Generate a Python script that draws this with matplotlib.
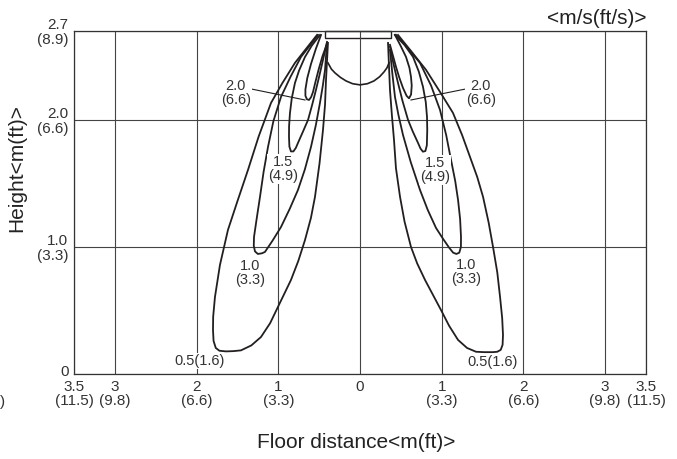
import matplotlib
matplotlib.use("Agg")
import matplotlib.pyplot as plt
from matplotlib.patches import Rectangle
from matplotlib.transforms import ScaledTranslation

plt.rcParams['font.family'] = ['Liberation Sans', 'DejaVu Sans']

# tick labels
x_ticks = [-3.5, -3, -2, -1, 0, 1, 2, 3, 3.5]
x_labels = ["3.5\n(11.5)", "3\n(9.8)", "2\n(6.6)", "1\n(3.3)", "0",
            "1\n(3.3)", "2\n(6.6)", "3\n(9.8)", "3.5\n(11.5)"]
y_ticks = [0, 1.0, 2.0, 2.7]
y_labels = ["0", "1.0\n(3.3)", "2.0\n(6.6)", "2.7\n(8.9)"]

# velocity contours, left side (m)
l20_x = [-0.477, -0.54, -0.60, -0.645, -0.668, -0.668, -0.650, -0.624, -0.598, -0.575,
         -0.545, -0.505, -0.46, -0.404]
l20_y = [2.669, 2.56, 2.44, 2.33, 2.24, 2.19, 2.163, 2.157, 2.18, 2.22,
         2.30, 2.40, 2.50, 2.60]
l15_x = [-0.490, -0.59, -0.673, -0.745, -0.796, -0.835, -0.857, -0.868, -0.869, -0.864,
         -0.845, -0.815, -0.785, -0.759, -0.700, -0.636, -0.585, -0.539, -0.495, -0.453,
         -0.404]
l15_y = [2.669, 2.585, 2.496, 2.39, 2.291, 2.17, 2.055, 1.95, 1.866, 1.79,
         1.752, 1.752, 1.78, 1.819, 1.905, 2.000, 2.12, 2.236, 2.355, 2.472,
         2.614]
l10_x = [-0.514, -0.62, -0.722, -0.85, -0.967, -1.06, -1.126, -1.18, -1.224, -1.265,
         -1.297, -1.300, -1.285, -1.25, -1.20, -1.163, -1.07, -0.967, -0.86, -0.759,
         -0.675, -0.600, -0.540, -0.490, -0.455, -0.428, -0.404]
l10_y = [2.669, 2.58, 2.496, 2.34, 2.181, 1.99, 1.787, 1.59, 1.394, 1.22,
         1.079, 1.01, 0.965, 0.945, 0.95, 0.961, 1.05, 1.157, 1.30, 1.449,
         1.61, 1.787, 1.96, 2.134, 2.27, 2.394, 2.606]
l05_x = [-0.526, -0.66, -0.796, -0.95, -1.089, -1.24, -1.371, -1.50, -1.616, -1.714,
         -1.775, -1.797, -1.799, -1.792, -1.765, -1.72, -1.64, -1.55, -1.457, -1.33,
         -1.212, -1.10, -1.004, -0.845, -0.755, -0.673, -0.60, -0.551, -0.495, -0.453,
         -0.428, -0.416, -0.392]
l05_y = [2.669, 2.56, 2.449, 2.29, 2.134, 1.87, 1.606, 1.36, 1.134, 0.858,
         0.606, 0.45, 0.346, 0.26, 0.205, 0.183, 0.178, 0.180, 0.186, 0.225,
         0.291, 0.40, 0.528, 0.740, 0.89, 1.055, 1.23, 1.394, 1.66, 1.921,
         2.12, 2.315, 2.606]

# velocity contours, right side (m)
r20_x = [0.428, 0.50, 0.563, 0.605, 0.624, 0.633, 0.625, 0.600, 0.57, 0.526,
         0.48, 0.441, 0.367]
r20_y = [2.669, 2.58, 2.496, 2.41, 2.339, 2.27, 2.20, 2.170, 2.19, 2.252,
         2.335, 2.417, 2.591]
r15_x = [0.428, 0.545, 0.649, 0.72, 0.771, 0.805, 0.820, 0.823, 0.818, 0.800,
         0.770, 0.740, 0.710, 0.645, 0.588, 0.52, 0.465, 0.41, 0.367]
r15_y = [2.669, 2.59, 2.496, 2.38, 2.260, 2.14, 2.024, 1.92, 1.80, 1.755,
         1.750, 1.775, 1.819, 1.91, 2.000, 2.15, 2.291, 2.44, 2.575]
r10_x = [0.441, 0.59, 0.734, 0.87, 0.979, 1.055, 1.114, 1.165, 1.200, 1.225,
         1.236, 1.235, 1.215, 1.18, 1.14, 1.09, 1.01, 0.930, 0.83, 0.734,
         0.62, 0.526, 0.470, 0.428, 0.395, 0.367]
r10_y = [2.669, 2.56, 2.449, 2.27, 2.079, 1.88, 1.685, 1.52, 1.370, 1.22,
         1.079, 1.00, 0.955, 0.945, 0.955, 0.995, 1.07, 1.150, 1.29, 1.449,
         1.67, 1.882, 2.04, 2.181, 2.37, 2.551]
r05_x = [0.465, 0.64, 0.808, 0.98, 1.138, 1.25, 1.346, 1.435, 1.506, 1.575,
         1.628, 1.680, 1.714, 1.740, 1.750, 1.745, 1.722, 1.68, 1.628, 1.52,
         1.420, 1.31, 1.200, 1.09, 0.991, 0.796, 0.70, 0.624, 0.545, 0.490,
         0.440, 0.416, 0.390, 0.367, 0.343]
r05_y = [2.669, 2.53, 2.394, 2.22, 2.055, 1.88, 1.709, 1.55, 1.394, 1.19,
         1.000, 0.80, 0.606, 0.44, 0.307, 0.23, 0.190, 0.175, 0.172, 0.172,
         0.175, 0.205, 0.268, 0.38, 0.504, 0.740, 0.87, 1.000, 1.20, 1.394,
         1.62, 1.843, 2.04, 2.236, 2.606]

# centre dip under the unit
bowl_x = [-0.392, -0.35, -0.306, -0.24, -0.171, -0.09, 0.0, 0.09, 0.171, 0.24, 0.294, 0.33, 0.355]
bowl_y = [2.449, 2.40, 2.370, 2.335, 2.307, 2.285, 2.276, 2.285, 2.307, 2.34, 2.378, 2.41, 2.449]

# unit outline
unit_x0, unit_x1 = -0.43, 0.38
unit_y0, unit_y1 = 2.645, 2.70

# contour labels: text, x, y
labels = [
    ("2.0\n(6.6)", -1.52, 2.21), ("2.0\n(6.6)", 1.48, 2.21),
    ("1.5\n(4.9)", -0.942, 1.614), ("1.5\n(4.9)", 0.918, 1.606),
    ("1.0\n(3.3)", -1.346, 0.795), ("1.0\n(3.3)", 1.297, 0.803),
    ("0.5(1.6)", -1.958, 0.102), ("0.5(1.6)", 1.628, 0.094),
]
leaders = [((-1.334, -0.673), (2.244, 2.157)), ((1.297, 0.624), (2.244, 2.157))]

ink = '#231f20'
fig = plt.figure(figsize=(6.77, 4.59), dpi=100)
ax = fig.add_axes([74 / 677, 1 - 374 / 459, 572 / 677, 343 / 459])
ax.set_xlim(-3.5, 3.5)
ax.set_ylim(0, 2.7)

ax.set_xticks(x_ticks)
ax.set_xticklabels(x_labels, fontsize=11, linespacing=1.05)
ax.set_yticks(y_ticks)
ax.set_yticklabels(y_labels, fontsize=11, linespacing=1.05)
ax.tick_params(length=0, pad=4, colors='#333333')
ax.grid(True, color='#444444', lw=0.8)
for s in ax.spines.values():
    s.set_color('#333333')
    s.set_linewidth(0.9)
zero = ax.get_yticklabels()[0]
zero.set_transform(zero.get_transform() + ScaledTranslation(0, 0.04, fig.dpi_scale_trans))

for xs, ys in [(l20_x, l20_y), (l15_x, l15_y), (l10_x, l10_y), (l05_x, l05_y),
               (r20_x, r20_y), (r15_x, r15_y), (r10_x, r10_y), (r05_x, r05_y)]:
    ax.plot(xs, ys, color=ink, lw=1.3, solid_joinstyle='round')
ax.plot(bowl_x, bowl_y, color=ink, lw=1.2, solid_joinstyle='round')

ax.add_patch(Rectangle((unit_x0, unit_y0), unit_x1 - unit_x0, unit_y1 - unit_y0,
                       fill=False, ec=ink, lw=1.0, clip_on=False))

for lx, ly in leaders:
    ax.plot(lx, ly, color=ink, lw=0.8)
for txt, x, y in labels:
    ax.text(x, y, txt, fontsize=10.5, ha='center', va='center', color='#333333',
            linespacing=1.0,
            bbox=dict(boxstyle='square,pad=0.05', fc='white', ec='none'))

fig.text(17 / 677, 1 - 168 / 459, "Height<m(ft)>", rotation=90, fontsize=15,
         ha='center', va='center', color='#222222')
fig.text(356 / 677, 1 - 443 / 459, "Floor distance<m(ft)>", fontsize=15,
         ha='center', va='center', color='#222222')
fig.text(647 / 677, 1 - 18 / 459, "<m/s(ft/s)>", fontsize=15,
         ha='right', va='center', color='#222222')
fig.text(0.0, 1 - 402 / 459, ")", fontsize=11, ha='left', va='center', color='#333333')

fig.savefig("out.png", dpi=100)
